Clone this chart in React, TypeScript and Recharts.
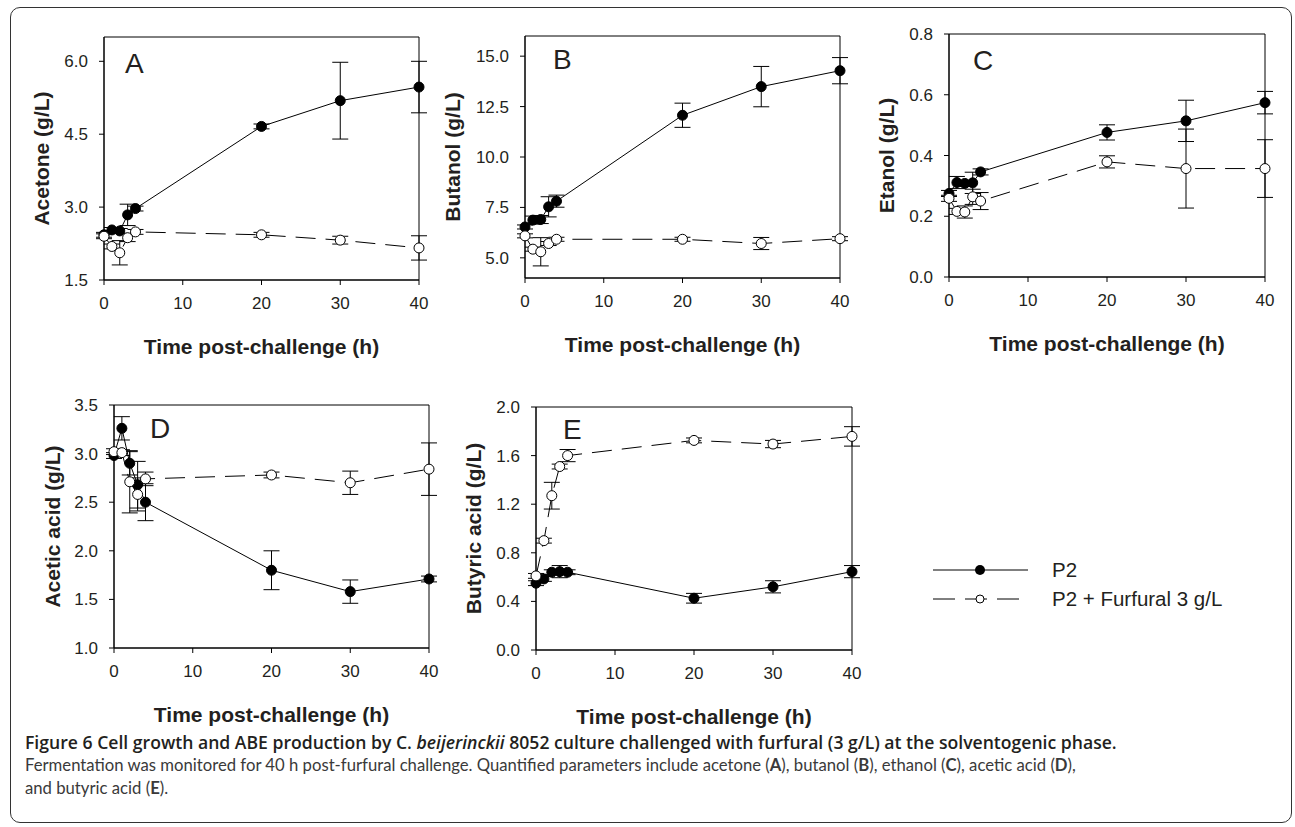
import React from 'react';
import { ErrorBar, Label, Line, LineChart, ReferenceArea, XAxis, YAxis } from 'recharts';

// Sampling times (h post-challenge), shared by all five panels.
const hours = [0, 1, 2, 3, 4, 20, 30, 40];
const xTicks = [0, 10, 20, 30, 40];

// A: acetone (g/L)
const acetoneP2 = [2.43, 2.53, 2.51, 2.84, 2.97, 4.66, 5.19, 5.47];
const acetoneP2Err = [0.05, 0.05, 0.05, 0.22, 0.05, 0.05, 0.79, 0.53];
const acetoneFur = [2.4, 2.19, 2.06, 2.37, 2.49, 2.43, 2.32, 2.16];
const acetoneFurErr = [0.05, 0.05, 0.25, 0.08, 0.05, 0.05, 0.08, 0.25];

// B: butanol (g/L)
const butanolP2 = [6.53, 6.87, 6.9, 7.53, 7.81, 12.07, 13.49, 14.28];
const butanolP2Err = [0.1, 0.2, 0.2, 0.5, 0.3, 0.6, 1.0, 0.65];
const butanolFur = [6.09, 5.43, 5.3, 5.71, 5.92, 5.92, 5.71, 5.95];
const butanolFurErr = [0.1, 0.1, 0.7, 0.1, 0.1, 0.1, 0.3, 0.1];

// C: ethanol (g/L)
const ethanolP2 = [0.275, 0.311, 0.308, 0.31, 0.346, 0.476, 0.514, 0.574];
const ethanolP2Err = [0.01, 0.02, 0.01, 0.035, 0.01, 0.025, 0.068, 0.037];
const ethanolFur = [0.259, 0.216, 0.214, 0.264, 0.25, 0.379, 0.357, 0.357];
const ethanolFurErr = [0.01, 0.01, 0.02, 0.025, 0.028, 0.02, 0.13, 0.095];

// D: acetic acid (g/L)
const aceticP2 = [2.98, 3.26, 2.9, 2.68, 2.5, 1.8, 1.58, 1.71];
const aceticP2Err = [0.03, 0.12, 0.12, 0.24, 0.19, 0.2, 0.12, 0.03];
const aceticFur = [3.02, 3.01, 2.71, 2.58, 2.74, 2.78, 2.7, 2.84];
const aceticFurErr = [0.03, 0.03, 0.32, 0.17, 0.07, 0.03, 0.12, 0.27];

// E: butyric acid (g/L)
const butyricP2 = [0.55, 0.585, 0.64, 0.645, 0.64, 0.426, 0.52, 0.645];
const butyricP2Err = [0.02, 0.02, 0.02, 0.05, 0.02, 0.04, 0.05, 0.05];
const butyricFur = [0.61, 0.9, 1.27, 1.51, 1.6, 1.725, 1.695, 1.758];
const butyricFurErr = [0.02, 0.02, 0.11, 0.02, 0.05, 0.02, 0.03, 0.08];

const FONT = '"Liberation Sans", Arial, Helvetica, sans-serif';
const INK = '#231f20';

// layout of each chart around its plot box
const YW = 100; // y-axis band
const MT = 10;
const MR = 12;
const XH = 90; // x-axis band

type Rect = { l: number; t: number; r: number; b: number };

const makeRows = (p2: number[], p2e: number[], fur: number[], fure: number[]) =>
  hours.map((h, i) => ({ h, p2: p2[i], p2e: p2e[i], fur: fur[i], fure: fure[i] }));

const panels = [
  {
    key: 'A',
    plot: { l: 104, t: 37, r: 419, b: 280 },
    rows: makeRows(acetoneP2, acetoneP2Err, acetoneFur, acetoneFurErr),
    yDomain: [1.5, 6.5],
    yTicks: [1.5, 3.0, 4.5, 6.0],
    yTitle: 'Acetone (g/L)',
    yDist: 63,
    letter: [21, 16],
  },
  {
    key: 'B',
    plot: { l: 525, t: 36, r: 840, b: 278 },
    rows: makeRows(butanolP2, butanolP2Err, butanolFur, butanolFurErr),
    yDomain: [4, 16],
    yTicks: [5.0, 7.5, 10.0, 12.5, 15.0],
    yTitle: 'Butanol (g/L)',
    yDist: 73,
    letter: [28, 13],
  },
  {
    key: 'C',
    plot: { l: 949, t: 34, r: 1265, b: 277 },
    rows: makeRows(ethanolP2, ethanolP2Err, ethanolFur, ethanolFurErr),
    yDomain: [0, 0.8],
    yTicks: [0, 0.2, 0.4, 0.6, 0.8],
    yTitle: 'Etanol (g/L)',
    yDist: 63,
    letter: [24, 16],
  },
  {
    key: 'D',
    plot: { l: 114, t: 405, r: 429, b: 648 },
    rows: makeRows(aceticP2, aceticP2Err, aceticFur, aceticFurErr),
    yDomain: [1.0, 3.5],
    yTicks: [1.0, 1.5, 2.0, 2.5, 3.0, 3.5],
    yTitle: 'Acetic acid (g/L)',
    yDist: 62,
    letter: [36, 13],
  },
  {
    key: 'E',
    plot: { l: 536, t: 407, r: 852, b: 650 },
    rows: makeRows(butyricP2, butyricP2Err, butyricFur, butyricFurErr),
    yDomain: [0, 2.0],
    yTicks: [0, 0.4, 0.8, 1.2, 1.6, 2.0],
    yTitle: 'Butyric acid (g/L)',
    yDist: 63,
    letter: [27, 12],
  },
];

const tickStyle = { fontSize: 17, fill: INK, fontFamily: FONT };

function Panel({ p }: { p: (typeof panels)[number] }) {
  const plot: Rect = p.plot;
  const pw = plot.r - plot.l;
  const ph = plot.b - plot.t;
  const W = YW + pw + MR;
  const H = MT + ph + XH;
  return (
    <div style={{ position: 'absolute', left: plot.l - YW, top: plot.t - MT }}>
      <LineChart width={W} height={H} data={p.rows} margin={{ top: MT, right: MR, left: 0, bottom: 0 }}>
        <XAxis
          dataKey="h"
          type="number"
          domain={[0, 40]}
          ticks={xTicks}
          height={XH}
          stroke="#000"
          tickSize={5}
          tickMargin={12}
          tick={tickStyle}
        >
          <Label
            content={() => (
              <text
                x={YW + pw / 2}
                y={MT + ph + 66}
                textAnchor="middle"
                dominantBaseline="central"
                fontFamily={FONT}
                fontWeight="bold"
                fontSize={21}
                fill={INK}
              >
                Time post-challenge (h)
              </text>
            )}
          />
        </XAxis>
        <YAxis
          type="number"
          domain={p.yDomain}
          ticks={p.yTicks}
          width={YW}
          stroke="#000"
          tickSize={5}
          tickMargin={11}
          tick={tickStyle}
          tickFormatter={(v: number) => v.toFixed(1)}
        >
          <Label
            content={() => {
              const cx = YW - p.yDist;
              const cy = MT + ph / 2;
              return (
                <text
                  x={cx}
                  y={cy}
                  transform={`rotate(-90 ${cx} ${cy})`}
                  textAnchor="middle"
                  dominantBaseline="central"
                  fontFamily={FONT}
                  fontWeight="bold"
                  fontSize={21}
                  fill={INK}
                >
                  {p.yTitle}
                </text>
              );
            }}
          />
        </YAxis>
        <ReferenceArea
          x1={0}
          x2={40}
          y1={p.yDomain[0]}
          y2={p.yDomain[1]}
          fill="none"
          stroke="#000"
          strokeWidth={1}
          ifOverflow="visible"
          label={
            <Label
              content={() => (
                <text
                  x={YW + p.letter[0]}
                  y={MT + p.letter[1] + 20}
                  fontFamily={FONT}
                  fontSize={28}
                  fill={INK}
                >
                  {p.key}
                </text>
              )}
            />
          }
        />
        <Line
          dataKey="p2"
          stroke="#000"
          strokeWidth={1}
          isAnimationActive={false}
          dot={{ r: 5, fill: '#000', stroke: '#000', strokeWidth: 1 }}
        >
          <ErrorBar dataKey="p2e" direction="y" width={8} stroke="#000" strokeWidth={1} />
        </Line>
        <Line
          dataKey="fur"
          stroke="#000"
          strokeWidth={1}
          strokeDasharray="20 10"
          isAnimationActive={false}
          dot={{ r: 5, fill: '#fff', stroke: '#000', strokeWidth: 1, strokeDasharray: 'none' }}
        >
          <ErrorBar dataKey="fure" direction="y" width={8} stroke="#000" strokeWidth={1} />
        </Line>
      </LineChart>
    </div>
  );
}

function LegendBox() {
  return (
    <svg width={320} height={60} style={{ position: 'absolute', left: 925, top: 555 }}>
      <line x1={8} x2={103} y1={15} y2={15} stroke="#000" strokeWidth={1} />
      <circle cx={55} cy={15} r={5} fill="#000" />
      <text x={127} y={22} fontFamily={FONT} fontSize={20.5} fill={INK}>
        P2
      </text>
      <line x1={8} x2={103} y1={44} y2={44} stroke="#000" strokeWidth={1} strokeDasharray="22 10" />
      <circle cx={55} cy={44} r={4} fill="#fff" stroke="#000" strokeWidth={1} />
      <text x={127} y={51} fontFamily={FONT} fontSize={20.5} fill={INK}>
        P2 + Furfural 3 g/L
      </text>
    </svg>
  );
}

export default function App() {
  return (
    <div
      style={{
        position: 'absolute',
        left: 0,
        top: 0,
        width: 1295,
        height: 827,
        background: '#fff',
        overflow: 'hidden',
      }}
    >
      <div
        style={{
          position: 'absolute',
          left: 10,
          top: 7,
          width: 1280,
          height: 814,
          border: '1.5px solid #333',
          borderRadius: 10,
        }}
      />
      {panels.map((p) => (
        <Panel key={p.key} p={p} />
      ))}
      <LegendBox />
      <div
        style={{
          position: 'absolute',
          left: 25,
          top: 731,
          lineHeight: '23px',
          whiteSpace: 'nowrap',
        }}
      >
        <div style={{ fontFamily: '"Open Sans", Lato, sans-serif', fontWeight: 600, fontSize: 17.6, color: INK }}>
          Figure 6 Cell growth and ABE production by C. <i>beijerinckii</i> 8052 culture challenged with furfural (3
          g/L) at the solventogenic phase.
        </div>
        <div style={{ fontFamily: 'Lato, sans-serif', fontSize: 16.7, color: '#3a3a3a' }}>
          Fermentation was monitored for 40 h post-furfural challenge. Quantified parameters include acetone (
          <b>A</b>), butanol (<b>B</b>), ethanol (<b>C</b>), acetic acid (<b>D</b>),
        </div>
        <div style={{ fontFamily: 'Lato, sans-serif', fontSize: 16.7, color: '#3a3a3a' }}>
          and butyric acid (<b>E</b>).
        </div>
      </div>
    </div>
  );
}
